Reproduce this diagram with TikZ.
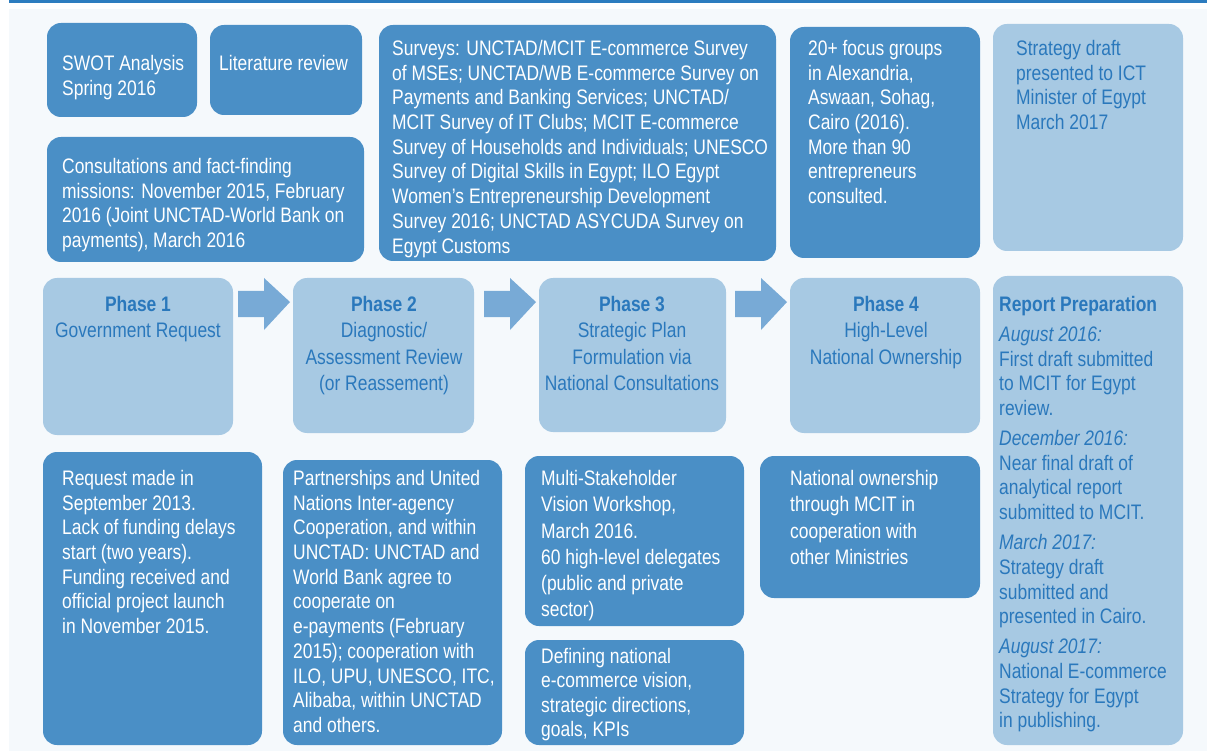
\documentclass[tikz,border=0pt]{standalone}
\usepackage{fontspec}
\setmainfont{Liberation Sans}[FakeStretch=0.83]
\usetikzlibrary{calc}
\definecolor{bgc}{HTML}{F5F9FC}
\definecolor{darkc}{HTML}{4A8FC6}
\definecolor{lightc}{HTML}{A7C9E3}
\definecolor{bluet}{HTML}{2A78BC}
\definecolor{arrowc}{HTML}{78AAD6}
\definecolor{topc}{HTML}{2C7CBF}
\tikzset{
  boxbase/.style={rounded corners=14pt, anchor=north west, inner sep=0pt, outer sep=0pt},
  dbox/.style={boxbase, fill=darkc},
  lbox/.style={boxbase, fill=lightc},
  wtxt/.style={text=white, align=left, anchor=north west, inner sep=0pt, font=\fontsize{21}{24.7}\selectfont},
  btxt/.style={text=bluet, align=left, anchor=north west, inner sep=0pt, font=\fontsize{21}{24.7}\selectfont},
  ptxt/.style={text=bluet, align=center, anchor=north, inner sep=0pt, font=\fontsize{21}{26.3}\selectfont},
  blockarrow/.style={fill=arrowc},
}
\newcommand\blockarr[1]{%
  \fill[blockarrow] ($(#1.north west)+(-55,13)$) -- ($(#1.north west)+(-29,13)$)
    -- ($(#1.north west)+(-29,0)$) -- ($(#1.north west)+(-3,24)$)
    -- ($(#1.north west)+(-29,52)$) -- ($(#1.north west)+(-29,39)$)
    -- ($(#1.north west)+(-55,39)$) -- cycle;}
\begin{document}
\begin{tikzpicture}[x=1pt, y=-1pt]
\useasboundingbox (0,0) rectangle (1207,751);
\fill[white] (0,0) rectangle (1207,751);
\fill[bgc] (9,9) rectangle (1207,751);
\fill[topc] (9,0) rectangle (1207,3);

% top row
\node[dbox, minimum width=150, minimum height=94] (swot) at (47,23) {};
\node[wtxt] (swott) at (62,55) {SWOT Analysis\\Spring 2016};
\node[dbox, minimum width=152, minimum height=90] (lit) at (210,25) {};
\node[wtxt] (litt) at (219,55) {Literature review};
\node[dbox, minimum width=317, minimum height=125] (cons) at (47,137) {};
\node[wtxt] (const) at (62,158) {Consultations and fact-finding\\missions: November 2015, February\\2016 (Joint UNCTAD-World Bank on\\payments), March 2016};
\node[dbox, minimum width=397, minimum height=236] (surv) at (379,25) {};
\node[wtxt] (survt) at (392,40) {Surveys: UNCTAD/MCIT E-commerce Survey\\of MSEs; UNCTAD/WB E-commerce Survey on\\Payments and Banking Services; UNCTAD/\\MCIT Survey of IT Clubs; MCIT E-commerce\\Survey of Households and Individuals; UNESCO\\Survey of Digital Skills in Egypt; ILO Egypt\\Women’s Entrepreneurship Development\\Survey 2016; UNCTAD ASYCUDA Survey on\\Egypt Customs};
\node[dbox, minimum width=190, minimum height=231] (focus) at (790,27) {};
\node[wtxt] (focust) at (808,40) {20+ focus groups\\in Alexandria,\\Aswaan, Sohag,\\Cairo (2016).\\More than 90\\entrepreneurs\\consulted.};
\node[lbox, minimum width=190, minimum height=227] (strat) at (993,24) {};
\node[btxt] (stratt) at (1016,40) {Strategy draft\\presented to ICT\\Minister of Egypt\\March 2017};

% phases
\node[lbox, minimum width=190, minimum height=157] (p1) at (43,278) {};
\node[ptxt] (p1t) at (138,296) {\textbf{Phase 1}\\Government Request};
\node[lbox, minimum width=181, minimum height=155] (p2) at (293,278) {};
\node[ptxt] (p2t) at (384,296) {\textbf{Phase 2}\\Diagnostic/\\Assessment Review\\(or Reassement)};
\node[lbox, minimum width=187, minimum height=154] (p3) at (539,278) {};
\node[ptxt] (p3t) at (632,296) {\textbf{Phase 3}\\Strategic Plan\\Formulation via\\National Consultations};
\node[lbox, minimum width=190, minimum height=155] (p4) at (790,278) {};
\node[ptxt] (p4t) at (886,296) {\textbf{Phase 4}\\High-Level\\National Ownership};
\node[lbox, minimum width=190, minimum height=469] (rep) at (993,276) {};
\node[btxt] (rept) at (999,296) {\textbf{Report Preparation}\\[5.3pt]
\textit{August 2016:}\\First draft submitted\\to MCIT for Egypt\\review.\\[5.3pt]
\textit{December 2016:}\\Near final draft of\\analytical report\\submitted to MCIT.\\[5.3pt]
\textit{March 2017:}\\Strategy draft\\submitted and\\presented in Cairo.\\[5.3pt]
\textit{August 2017:}\\National E-commerce\\Strategy for Egypt\\in publishing.};

\blockarr{p2}
\blockarr{p3}
\blockarr{p4}

% bottom row
\node[dbox, minimum width=219, minimum height=293] (req) at (43,452) {};
\node[wtxt] (reqt) at (62,470) {Request made in\\September 2013.\\Lack of funding delays\\start (two years).\\Funding received and\\official project launch\\in November 2015.};
\node[dbox, minimum width=219, minimum height=285] (part) at (283,460) {};
\node[wtxt] (partt) at (293,470) {Partnerships and United\\Nations Inter-agency\\Cooperation, and within\\UNCTAD: UNCTAD and\\World Bank agree to\\cooperate on\\e-payments (February\\2015); cooperation with\\ILO, UPU, UNESCO, ITC,\\Alibaba, within UNCTAD\\and others.};
\node[dbox, minimum width=219, minimum height=170] (multi) at (525,456) {};
\node[wtxt, font=\fontsize{21}{26.3}\selectfont] (multit) at (541,470) {Multi-Stakeholder\\Vision Workshop,\\March 2016.\\60 high-level delegates\\(public and private\\sector)};
\node[dbox, minimum width=219, minimum height=105] (def) at (525,640) {};
\node[wtxt, font=\fontsize{21}{24.5}\selectfont] (deft) at (541,648) {Defining national\\e-commerce vision,\\strategic directions,\\goals, KPIs};
\node[dbox, minimum width=220, minimum height=142] (nat) at (760,456) {};
\node[wtxt, font=\fontsize{21}{26.3}\selectfont] (natt) at (790,470) {National ownership\\through MCIT in\\cooperation with\\other Ministries};
\end{tikzpicture}
\end{document}
